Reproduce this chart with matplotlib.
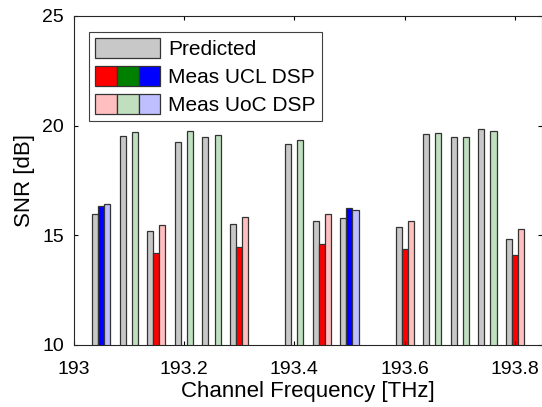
import numpy as np
import matplotlib
matplotlib.use('Agg')
import matplotlib.pyplot as plt
from matplotlib.patches import Patch
from matplotlib.legend_handler import HandlerTuple

plt.rcParams['font.family'] = ['Liberation Sans', 'DejaVu Sans']

# channel data
freqs = [193.05, 193.10, 193.15, 193.20, 193.25, 193.30, 193.40,
         193.45, 193.50, 193.60, 193.65, 193.70, 193.75, 193.80]
predicted = [15.96, 19.54, 15.17, 19.24, 19.47, 15.51, 19.17,
             15.65, 15.79, 15.35, 19.62, 19.49, 19.83, 14.83]
meas_ucl = [16.32, np.nan, 14.17, np.nan, np.nan, 14.45, np.nan,
            14.57, 16.23, 14.36, np.nan, np.nan, np.nan, 14.08]
meas_uoc = [16.40, 19.71, 15.45, 19.75, 19.56, 15.81, 19.36,
            15.94, 16.14, 15.65, 19.66, 19.46, 19.75, 15.27]
band = ['b', 'g', 'r', 'g', 'g', 'r', 'g', 'r', 'b', 'r', 'g', 'g', 'g', 'r']

dark = {'r': '#ff0000', 'g': '#008000', 'b': '#0000ff'}
light = {'r': '#ffbfbf', 'g': '#bfdfbf', 'b': '#bfbfff'}
grey = '#c8c8c8'
edge = '#333333'

bw = 0.011

fig = plt.figure(figsize=(5.42, 4.07), dpi=100)
ax = fig.add_axes([73.5 / 542, 1 - 344.5 / 407, (541.5 - 73.5) / 542, (344.5 - 16) / 407])

x = np.array(freqs)
ax.bar(x - bw, predicted, width=bw, color=grey, edgecolor=edge, linewidth=0.9)
ax.bar(x, meas_ucl, width=bw, color=[dark[b] for b in band], edgecolor=edge, linewidth=0.9)
ax.bar(x + bw, meas_uoc, width=bw, color=[light[b] for b in band], edgecolor=edge, linewidth=0.9)

ax.set_xlim(193, 193.848)
ax.set_ylim(10, 25)
ax.set_xticks([193, 193.2, 193.4, 193.6, 193.8])
ax.set_xticklabels(['193', '193.2', '193.4', '193.6', '193.8'])
ax.set_yticks([10, 15, 20, 25])
ax.tick_params(direction='in', length=3, width=0.8, labelsize=14, top=True, right=True)
ax.tick_params(axis='x', pad=12)
ax.tick_params(axis='y', pad=7)
for s in ax.spines.values():
    s.set_linewidth(0.8)
    s.set_color('#262626')

ax.set_xlabel('Channel Frequency [THz]', fontsize=16, labelpad=2)
ax.set_ylabel('SNR [dB]', fontsize=16, labelpad=5)

h_pred = Patch(facecolor=grey, edgecolor=edge, linewidth=0.9)
h_ucl = tuple(Patch(facecolor=dark[k], edgecolor=edge, linewidth=0.9) for k in 'rgb')
h_uoc = tuple(Patch(facecolor=light[k], edgecolor=edge, linewidth=0.9) for k in 'rgb')
leg = ax.legend([h_pred, h_ucl, h_uoc], ['Predicted', 'Meas UCL DSP', 'Meas UoC DSP'],
                handler_map={tuple: HandlerTuple(ndivide=None, pad=0)},
                loc='upper left', fontsize=15, handlelength=3.125, handleheight=1.1,
                handletextpad=0.35, labelspacing=0.33, borderpad=0.3, borderaxespad=0.75,
                fancybox=False, framealpha=1, edgecolor='#404040')
leg.get_frame().set_linewidth(0.8)

fig.savefig('out.png', dpi=100)
